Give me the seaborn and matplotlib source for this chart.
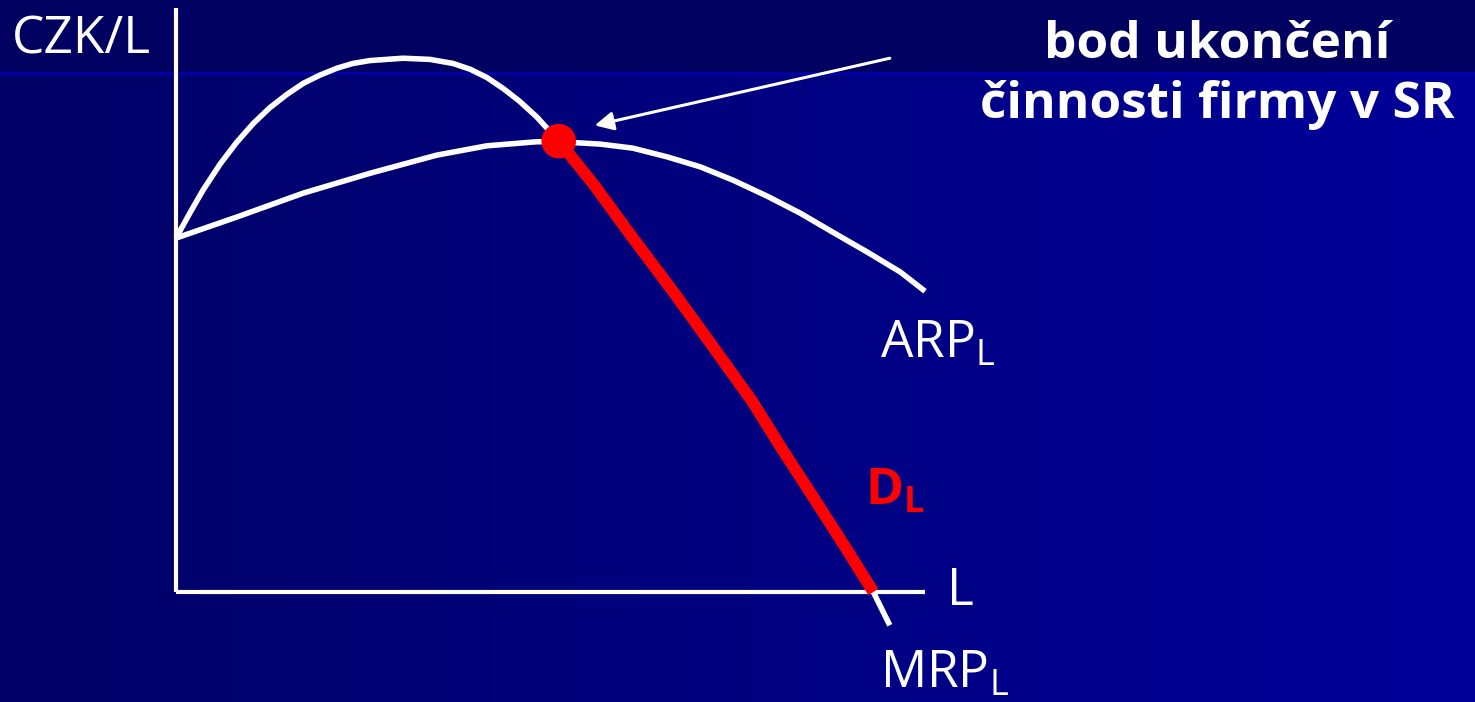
import matplotlib
matplotlib.use('Agg')
import matplotlib.pyplot as plt
import seaborn as sns
import numpy as np
import pandas as pd

# curve data (L, CZK/L)
mrp_L = [0.0, 0.19, 0.36, 0.59, 0.81, 1.03, 1.25, 1.48, 1.70, 1.92, 2.15, 2.36, 2.59, 3.03,
         3.39, 3.70, 3.93, 4.15, 4.37, 4.59, 4.82, 5.11, 5.57, 6.10, 6.64, 7.04, 7.68, 8.10,
         8.53, 8.96, 9.31, 9.53]
mrp_val = [6.06, 6.50, 6.88, 7.33, 7.70, 8.02, 8.29, 8.52, 8.71, 8.85, 8.97, 9.05, 9.10, 9.14,
           9.12, 9.05, 8.95, 8.81, 8.62, 8.40, 8.13, 7.72, 6.99, 6.06, 5.14, 4.43, 3.29, 2.43,
           1.58, 0.72, 0.0, -0.57]
arp_L = [0.0, 0.81, 1.70, 2.59, 3.48, 4.15, 4.82, 5.11, 5.66, 6.10, 6.56, 7.00, 7.44, 7.89,
         8.33, 8.77, 9.23, 9.67, 10.0]
arp_val = [6.06, 6.42, 6.83, 7.17, 7.48, 7.64, 7.71, 7.71, 7.67, 7.60, 7.45, 7.28, 7.05, 6.78,
           6.49, 6.16, 5.82, 5.48, 5.15]
shutdown_L = [5.11]
shutdown_val = [7.72]

mrp = pd.DataFrame({'L': mrp_L, 'v': mrp_val})
arp = pd.DataFrame({'L': arp_L, 'v': arp_val})
demand = mrp[(mrp['L'] >= shutdown_L[0]) & (mrp['v'] >= 0)]

sns.set_theme(style='white')
plt.rcParams['font.family'] = ['Open Sans', 'DejaVu Sans']
plt.rcParams['mathtext.fontset'] = 'custom'
plt.rcParams['mathtext.rm'] = 'Open Sans'
plt.rcParams['mathtext.bf'] = 'Open Sans:bold'

fig = plt.figure(figsize=(14.75, 7.02), dpi=100)

# slide background: horizontal gradient with a dark title band
bg = fig.add_axes([0, 0, 1, 1])
grad = np.linspace(0, 1, 256).reshape(1, -1)
bg.imshow(grad, extent=[0, 1, 0, 1], aspect='auto',
          cmap=matplotlib.colors.LinearSegmentedColormap.from_list('bg', ['#000066', '#000099']))
bg.axhspan(1 - 72 / 702, 1, color='#000060', lw=0)
bg.axhline(1 - 73 / 702, color='#0000aa', lw=2)
bg.set_xlim(0, 1)
bg.set_ylim(0, 1)
bg.axis('off')

ax = fig.add_axes([0, 0, 1, 1])
ax.patch.set_alpha(0)
ax.set_xlim(-176 / 74.9, (1475 - 176) / 74.9)
ax.set_ylim(-(702 - 592) / 58.4, 592 / 58.4)
ax.axis('off')

# axes of the diagram
ax.plot([0, 0], [0, 10], color='white', lw=3, solid_capstyle='butt')
ax.plot([0, 10], [0, 0], color='white', lw=3, solid_capstyle='butt')

sns.lineplot(data=mrp, x='L', y='v', ax=ax, color='white', linewidth=4.0, sort=False,
             estimator=None, solid_joinstyle='round', solid_capstyle='butt')
sns.lineplot(data=arp, x='L', y='v', ax=ax, color='white', linewidth=4.0, sort=False,
             estimator=None, solid_joinstyle='round', solid_capstyle='butt')
sns.lineplot(data=demand, x='L', y='v', ax=ax, color='#ff0000', linewidth=8.5, sort=False,
             estimator=None, solid_joinstyle='round', solid_capstyle='butt')
sns.scatterplot(x=shutdown_L, y=shutdown_val, ax=ax, color='#ff0000', s=620,
                edgecolor='none', zorder=5)

ax.annotate('', xy=(5.59, 7.99), xytext=(9.53, 9.14),
            arrowprops=dict(arrowstyle='-|>', color='white', lw=2.2,
                            mutation_scale=28, shrinkA=0, shrinkB=0))

fs = 37
ax.text(-2.19, 9.45, 'CZK/L', color='white', fontsize=fs, ha='left', va='center')
ax.text(13.9, 9.14, 'bod ukončení', color='white', fontsize=fs, fontweight='bold',
        ha='center', va='baseline')
ax.text(13.9, 8.12, 'činnosti firmy v SR', color='white', fontsize=fs, fontweight='bold',
        ha='center', va='baseline')
ax.text(9.40, 4.02, r'ARP$_\mathregular{L}$', color='white', fontsize=fs, ha='left', va='baseline')
ax.text(9.40, -1.64, r'MRP$_\mathregular{L}$', color='white', fontsize=fs, ha='left', va='baseline')
ax.text(10.3, -0.22, 'L', color='white', fontsize=fs, ha='left', va='baseline')
ax.text(9.2, 1.49, r'D$_\mathbf{L}$', color='#ff0000', fontsize=fs, fontweight='bold',
        ha='left', va='baseline')

fig.savefig('out.png', dpi=100)
